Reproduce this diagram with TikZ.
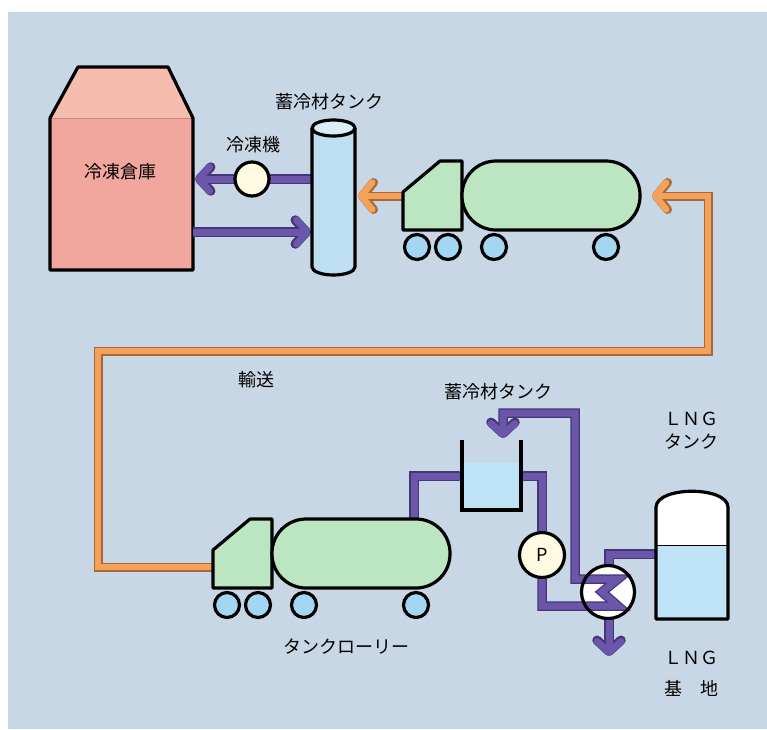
\documentclass[tikz,border=0pt]{standalone}
\usepackage{fontspec}
\setmainfont{Noto Sans CJK JP}
\usetikzlibrary{arrows.meta}

\definecolor{paper}{HTML}{C8D7E5}
\definecolor{storewall}{HTML}{F2A79E}
\definecolor{storeroof}{HTML}{F6BCAE}
\definecolor{cream}{HTML}{FFFBE3}
\definecolor{tankblue}{HTML}{BEDFF2}
\definecolor{tanktop}{HTML}{DAEEF9}
\definecolor{truckgreen}{HTML}{BCE5C2}
\definecolor{wheelblue}{HTML}{A3D6F3}
\definecolor{water}{HTML}{BFE3F6}
\definecolor{pipefill}{HTML}{6C56AA}
\definecolor{pipeedge}{HTML}{45367A}
\definecolor{feedfill}{HTML}{F4A25A}
\definecolor{feededge}{HTML}{A8683A}

\begin{document}
\begin{tikzpicture}[x=1pt, y=-1pt,
  every node/.style={font=\fontsize{18}{20}\selectfont, inner sep=0pt},
  outline/.style={draw=black, line width=3.2pt, line join=round},
  pipe/.style={draw=pipefill, line width=7pt, preaction={draw=pipeedge, line width=9.5pt}},
  pipetip/.style={-{Straight Barb[length=11pt, width=24pt, round]}},
  feed/.style={draw=feedfill, line width=6.5pt, preaction={draw=feededge, line width=9pt}},
  feedtip/.style={-{Straight Barb[length=11pt, width=27pt, round]}},
  wheel/.style={outline, fill=wheelblue}]
  \useasboundingbox (0,0) rectangle (767,729);
  \fill[white] (0,0) rectangle (767,729);
  \fill[paper] (8,12) rectangle (767,729);

  % Ports
  \coordinate (store-in)  at (195,179);
  \coordinate (store-out) at (193,232);
  \coordinate (cyl-hi)    at (313,179);
  \coordinate (cyl-lo)    at (311,232);
  \coordinate (cyl-feed)  at (358,196);
  \coordinate (top-cab)   at (403,196);
  \coordinate (top-rear)  at (652,196);
  \coordinate (bot-cab)   at (213,567);
  \coordinate (bot-port)  at (414,521);
  \coordinate (loop-w)    at (98,351);
  \coordinate (loop-e)    at (708,196);
  \coordinate (otank-in)  at (464,476);
  \coordinate (otank-out) at (519,476);
  \coordinate (otank-ret) at (503,438);
  \coordinate (lng-out)   at (657,554);
  \coordinate (hx-drop)   at (609,656);

  % Cold store
  \fill[storeroof] (50,118) -- (78,67) -- (168,67) -- (193,118) -- cycle;
  \fill[storewall] (50,118) rectangle (193,270);
  \draw[storewall!80!black, line width=0.8pt] (50,118) -- (193,118);
  \draw[outline] (50,270) -- (50,118) -- (78,67) -- (168,67) -- (193,118) -- (193,270) -- cycle;
  \node (store) at (120,172) {冷凍倉庫};

  % Brine loop to the store
  \draw[pipe, pipetip] (cyl-hi) -- (store-in);
  \draw[pipe, pipetip] (store-out) -- (cyl-lo);
  \node (chiller) [circle, outline, fill=cream, minimum size=34pt] at (252,179) {};
  \node (chiller-lbl) at (253,145) {冷凍機};

  % Storage cylinder
  \fill[tankblue] (312,128) -- (312,267) arc[start angle=180, end angle=0, x radius=21.5, y radius=8] -- (355,128) -- cycle;
  \draw[outline] (312,128) -- (312,267) arc[start angle=180, end angle=0, x radius=21.5, y radius=8] -- (355,128);
  \draw[outline, fill=tanktop] (333.5,128) ellipse[x radius=21.5, y radius=8];
  \node (cyl-lbl) at (329,102) {蓄冷材タンク};

  % Transport line
  \draw[feed, feedtip] (top-cab) -- (cyl-feed);
  \draw[feed, feedtip, line join=miter] (bot-cab) -| (loop-w) -| (loop-e) -- (top-rear);
  \node (trans-lbl) at (256,380) {輸送};

  % Tank lorries
  \draw[pipe] (bot-port) |- (otank-in);
  \foreach \nm/\tx/\ty in {top/403/230, bot/213/588} {
    \begin{scope}[shift={(\tx,\ty)}]
      \filldraw[outline, fill=truckgreen] (0,0) -- (0,-38) -- (37,-69) -- (59,-69) -- (59,0) -- cycle;
      \filldraw[outline, fill=truckgreen, rounded corners=34pt] (59,-69) rectangle (237,0);
      \foreach \wx in {14,45,91,203}
        \filldraw[wheel] (\wx,17) circle[radius=12.5];
    \end{scope}
  }
  \node (lorry-lbl) at (346,647) {タンクローリー};

  % LNG side and heat exchanger
  \node (pump) [circle, outline, fill=cream, minimum size=45pt] at (542,555) {P};
  \draw[pipe, pipetip] (lng-out) -| (hx-drop);
  \node (hx) [circle, fill=white, minimum size=54pt] at (608,592) {};
  \draw[pipe, line join=miter] (otank-out) -| (pump.north);
  \draw[pipe, pipetip, line join=miter] (pump.south) |- (618,606) -- (602,592) -- (618,579)
    -- (575,579) |- (503,413) -- (otank-ret);
  \draw[outline] (hx) circle[radius=26.5];

  % Open storage tank
  \fill[water] (462,463) rectangle (521,510);
  \draw[outline, line join=miter] (462,440) -- (462,510) -- (521,510) -- (521,440);
  \node (otank-lbl) at (498,392) {蓄冷材タンク};

  % LNG tank
  \fill[white] (656,619) -- (656,507) .. controls (657,486) and (727,486) .. (728,507) -- (728,619) -- cycle;
  \fill[water] (656,545) rectangle (728,619);
  \draw[outline] (656,619) -- (656,507) .. controls (657,486) and (727,486) .. (728,507) -- (728,619) -- cycle;
  \draw[line width=1pt] (656,545) -- (728,545);
  \node (lng-lbl) at (691,419) {ＬＮＧ};
  \node (lng-lbl2) at (691,442) {タンク};
  \node (base-lbl) at (691,658) {ＬＮＧ};
  \node (base-lbl2) at (691,688) {基　地};
\end{tikzpicture}
\end{document}
